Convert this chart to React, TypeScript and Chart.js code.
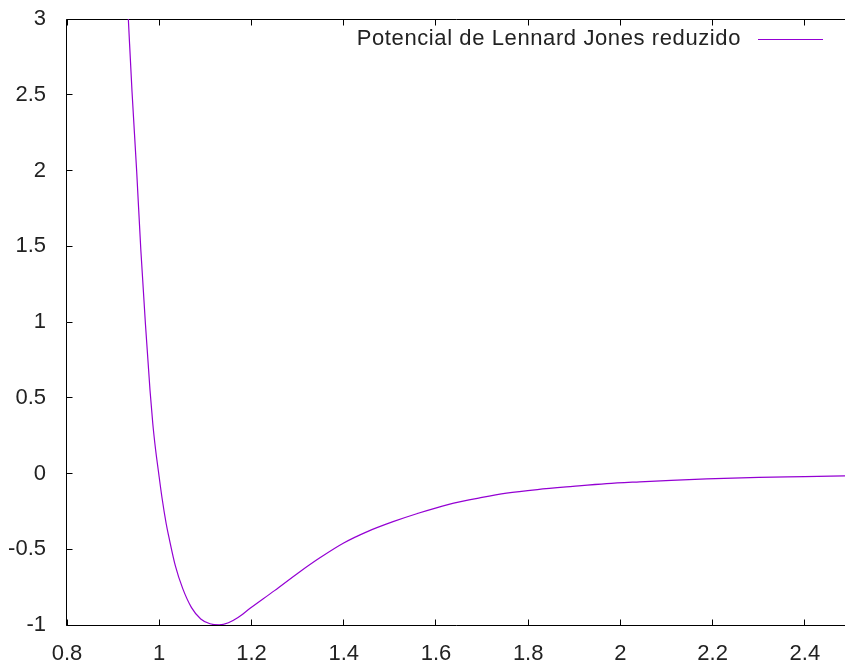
import React, { useEffect, useRef } from "react";
import { Chart, registerables } from "chart.js";

Chart.register(...registerables);

// Series
const xValues = [
  0.933, 0.941, 0.951, 0.96, 0.97, 0.98, 0.986, 0.992, 0.998, 1.006, 1.015, 1.021, 1.035, 1.051,
  1.07, 1.09, 1.11, 1.13, 1.15, 1.17, 1.197, 1.25, 1.305, 1.35, 1.399, 1.45, 1.507,
  1.56, 1.626, 1.7, 1.753, 1.82, 1.897, 1.97, 2.042, 2.11, 2.187, 2.3, 2.4, 2.487,
];
const yValues = [
  3.0, 2.52, 2.0, 1.48, 0.99, 0.55, 0.33, 0.16, 0.02, -0.16, -0.33, -0.42, -0.61, -0.76,
  -0.885, -0.96, -0.992, -0.999, -0.985, -0.952, -0.89, -0.773, -0.648, -0.553, -0.46, -0.385, -0.318,
  -0.264, -0.205, -0.158, -0.13, -0.106, -0.085, -0.067, -0.055, -0.045, -0.036, -0.026, -0.021, -0.016,
];
const xTickValues = [0.8, 1, 1.2, 1.4, 1.6, 1.8, 2, 2.2, 2.4];
const yTickValues = [-1, -0.5, 0, 0.5, 1, 1.5, 2, 2.5, 3];
const seriesLabel = "Potencial de Lennard Jones reduzido";

const X_MIN = 0.8;
const X_MAX = 2.487;
const Y_MIN = -1;
const Y_MAX = 3;

const FONT_FAMILY = "'Liberation Sans', Arial, sans-serif";
const FONT_SIZE = 22;
const TEXT_COLOR = "#222";
const LINE_COLOR = "#9400d3";

const fmt = (v: number) => String(Math.round(v * 10) / 10);

const framePlugin = {
  id: "gnuplotFrame",
  beforeDatasetsDraw(chart: any) {
    const { ctx, chartArea, scales } = chart;
    const left = Math.round(chartArea.left) - 0.5;
    const top = Math.round(chartArea.top) + 0.5;
    const bottom = Math.round(chartArea.bottom) + 0.5;
    const right = chart.width + 2;
    ctx.save();
    ctx.strokeStyle = "#000";
    ctx.lineWidth = 1;
    ctx.beginPath();
    ctx.moveTo(right, top);
    ctx.lineTo(left, top);
    ctx.lineTo(left, bottom);
    ctx.lineTo(right, bottom);
    ctx.stroke();
    const tl = 6;
    ctx.beginPath();
    for (const v of xTickValues) {
      const px = Math.floor(scales.x.getPixelForValue(v)) + 0.5;
      ctx.moveTo(px, bottom);
      ctx.lineTo(px, bottom - tl);
      ctx.moveTo(px, top);
      ctx.lineTo(px, top + tl);
    }
    for (const v of yTickValues) {
      const py = Math.floor(scales.y.getPixelForValue(v)) + 0.5;
      ctx.moveTo(left, py);
      ctx.lineTo(left + tl, py);
    }
    ctx.stroke();
    ctx.restore();
  },
  afterDraw(chart: any) {
    const { ctx } = chart;
    const ds = chart.data.datasets[0];
    ctx.save();
    ctx.font = `${FONT_SIZE}px ${FONT_FAMILY}`;
    (ctx as any).letterSpacing = "0.6px";
    ctx.fillStyle = TEXT_COLOR;
    ctx.textAlign = "right";
    ctx.textBaseline = "middle";
    const ty = 39;
    ctx.fillText(ds.label, 741, ty);
    (ctx as any).letterSpacing = "0px";
    ctx.strokeStyle = ds.borderColor;
    ctx.lineWidth = 1.2;
    ctx.beginPath();
    ctx.moveTo(758, ty + 0.5);
    ctx.lineTo(823, ty + 0.5);
    ctx.stroke();
    ctx.restore();
  },
};

export default function App() {
  const ref = useRef<HTMLCanvasElement>(null);

  useEffect(() => {
    document.body.style.margin = "0";
    const canvas = ref.current;
    if (!canvas) return;
    const chart = new Chart(canvas, {
      type: "line",
      data: {
        datasets: [
          {
            label: seriesLabel,
            data: xValues.map((x, i) => ({ x, y: yValues[i] })),
            borderColor: LINE_COLOR,
            backgroundColor: LINE_COLOR,
            borderWidth: 1.2,
            pointRadius: 0,
            fill: false,
            cubicInterpolationMode: "monotone",
          },
        ],
      },
      options: {
        animation: false,
        responsive: false,
        devicePixelRatio: 1,
        layout: { padding: { top: 19, right: 0, left: 0, bottom: 0 } },
        plugins: {
          legend: { display: false },
          tooltip: { enabled: false },
        },
        scales: {
          x: {
            type: "linear",
            min: X_MIN,
            max: X_MAX,
            grid: { display: false, drawTicks: false },
            border: { display: false },
            afterBuildTicks: (s: any) => {
              s.ticks = xTickValues.map((v) => ({ value: v }));
            },
            afterFit: (s: any) => {
              s.height = 38;
              s.paddingLeft = 0;
              s.paddingRight = 0;
            },
            ticks: {
              autoSkip: false,
              maxRotation: 0,
              padding: 16,
              color: TEXT_COLOR,
              font: { family: FONT_FAMILY, size: FONT_SIZE },
              callback: (v: any) => fmt(Number(v)),
            },
          },
          y: {
            type: "linear",
            min: Y_MIN,
            max: Y_MAX,
            grid: { display: false, drawTicks: false },
            border: { display: false },
            afterBuildTicks: (s: any) => {
              s.ticks = yTickValues.map((v) => ({ value: v }));
            },
            afterFit: (s: any) => {
              s.width = 67;
              s.paddingTop = 0;
              s.paddingBottom = 0;
            },
            ticks: {
              autoSkip: false,
              padding: 21,
              color: TEXT_COLOR,
              font: { family: FONT_FAMILY, size: FONT_SIZE },
              callback: (v: any) => fmt(Number(v)),
            },
          },
        },
      },
      plugins: [framePlugin],
    });
    return () => chart.destroy();
  }, []);

  return (
    <div style={{ width: 845, height: 663 }}>
      <canvas ref={ref} width={845} height={663} style={{ display: "block" }} />
    </div>
  );
}
